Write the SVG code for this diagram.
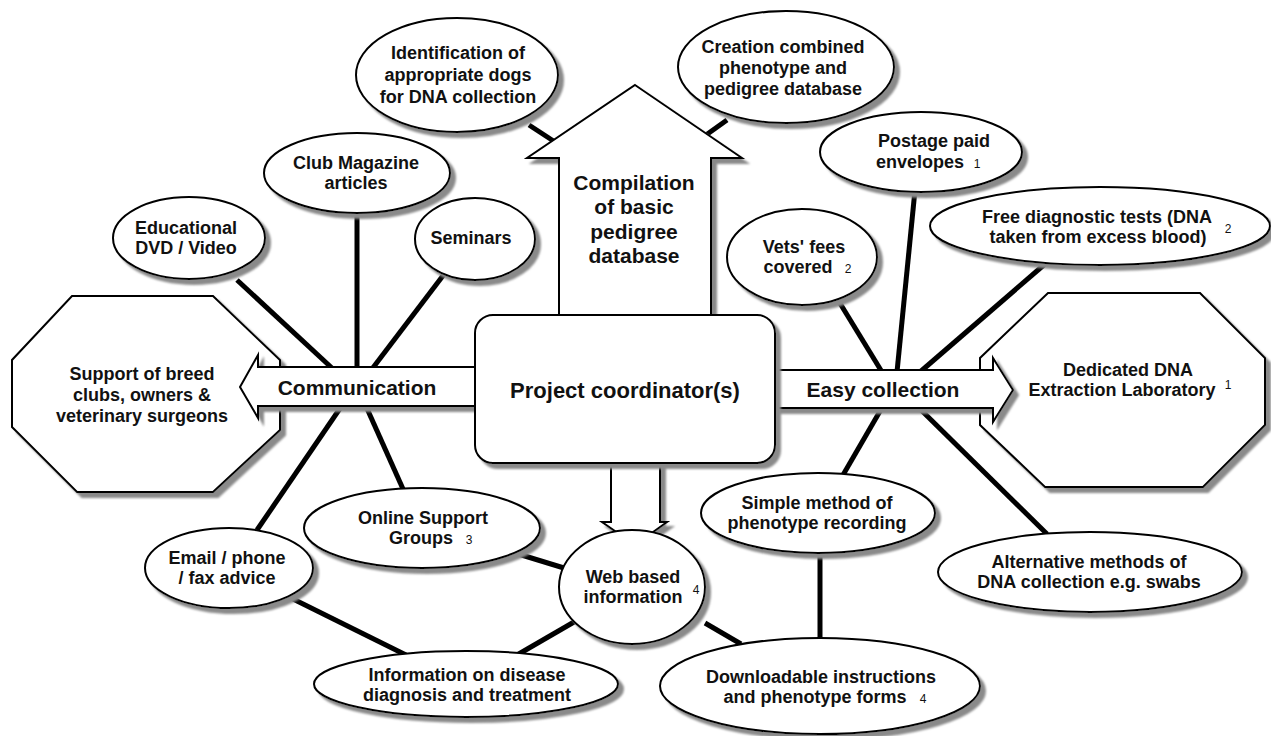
<svg xmlns="http://www.w3.org/2000/svg" width="1271" height="736" viewBox="0 0 1271 736">
<defs>
<filter id="sh" x="-10%" y="-10%" width="130%" height="130%">
<feDropShadow dx="5" dy="5" stdDeviation="1" flood-color="#8a8a8a" flood-opacity="1"/>
</filter>
<style>
.s{fill:#fff;stroke:#000;stroke-width:2;filter:url(#sh)}
.c{stroke:#000;stroke-width:5;fill:none}
text{font-family:"Liberation Sans",Arial,sans-serif;font-weight:bold;font-size:18px;fill:#111;text-anchor:middle}
.big{font-size:21px}
.sup{font-size:12px;font-weight:normal}
</style>
</defs>
<rect width="1271" height="736" fill="#fff"/>
<g id="connectors">
<line class="c" x1="237" y1="280" x2="333" y2="369"/>
<line class="c" x1="357" y1="213" x2="357" y2="369"/>
<line class="c" x1="445" y1="273" x2="372" y2="369"/>
<line class="c" x1="343" y1="404" x2="257" y2="530"/>
<line class="c" x1="365" y1="404" x2="403" y2="489"/>
<line class="c" x1="529" y1="125" x2="555" y2="142"/>
<line class="c" x1="727" y1="120" x2="706" y2="135"/>
<line class="c" x1="838" y1="300" x2="882" y2="372"/>
<line class="c" x1="915" y1="190" x2="897" y2="372"/>
<line class="c" x1="1045" y1="264" x2="920" y2="372"/>
<line class="c" x1="883" y1="406" x2="843" y2="475"/>
<line class="c" x1="917" y1="406" x2="1047" y2="534"/>
<line class="c" x1="515" y1="553" x2="564" y2="568"/>
<line class="c" x1="289" y1="597" x2="406" y2="655"/>
<line class="c" x1="574" y1="622" x2="517" y2="655"/>
<line class="c" x1="705" y1="623" x2="741" y2="644"/>
<line class="c" x1="820" y1="551" x2="820" y2="639"/>
</g>
<g id="support">
<polygon class="s" points="72,296 213,296 280,360 280,430 213,492 77,492 12,427 12,360"/>
<text x="142" y="380">Support of breed</text>
<text x="142" y="401">clubs, owners &amp;</text>
<text x="142" y="422">veterinary surgeons</text>
</g>
<g id="dedicated">
<polygon class="s" points="1048,293 1200,293 1265,358 1265,425 1203,487 1045,487 980,425 980,358"/>
<text x="1128" y="376">Dedicated DNA</text>
<text x="1122" y="396">Extraction Laboratory</text>
<text class="sup" x="1228" y="389">1</text>
</g>
<g id="communication">
<polygon class="s" points="240,387 258,355 258,367 475,367 475,406 258,406 258,418"/>
<text class="big" x="357" y="395">Communication</text>
</g>
<g id="easy">
<polygon class="s" points="775,370 993,370 993,358 1013,390 993,422 993,408 775,408"/>
<text class="big" x="883" y="397">Easy collection</text>
</g>
<g id="compilation">
<polygon class="s" points="635,85 742,158 711,158 711,315 559,315 559,158 527,158"/>
<text class="big" x="634" y="190">Compilation</text>
<text class="big" x="634" y="214">of basic</text>
<text class="big" x="634" y="239">pedigree</text>
<text class="big" x="634" y="263">database</text>
</g>
<g id="downarrow">
<polygon class="s" points="611,462 660,462 660,522 667,522 635,545 602,522 611,522"/>
</g>
<g id="coordinator">
<rect class="s" x="475" y="315" width="300" height="148" rx="18"/>
<text x="625" y="398" style="font-size:22px">Project coordinator(s)</text>
</g>
<g id="identification">
<ellipse class="s" cx="457" cy="75" rx="101" ry="57"/>
<text x="458" y="59">Identification of</text>
<text x="458" y="81">appropriate dogs</text>
<text x="458" y="103">for DNA collection</text>
</g>
<g id="creation">
<ellipse class="s" cx="786" cy="67" rx="108" ry="56"/>
<text x="783" y="53">Creation combined</text>
<text x="783" y="74">phenotype and</text>
<text x="783" y="95">pedigree database</text>
</g>
<g id="club">
<ellipse class="s" cx="357" cy="173" rx="93" ry="40"/>
<text x="356" y="169">Club Magazine</text>
<text x="356" y="189">articles</text>
</g>
<g id="educational">
<ellipse class="s" cx="189" cy="238" rx="76" ry="41"/>
<text x="186" y="234">Educational</text>
<text x="186" y="254">DVD / Video</text>
</g>
<g id="seminars">
<ellipse class="s" cx="475" cy="239" rx="60" ry="41"/>
<text x="471" y="244">Seminars</text>
</g>
<g id="vets">
<ellipse class="s" cx="802" cy="257" rx="75" ry="48"/>
<text x="804" y="253">Vets' fees</text>
<text x="798" y="273">covered</text>
<text class="sup" x="848" y="273">2</text>
</g>
<g id="postage">
<ellipse class="s" cx="921" cy="152" rx="101" ry="40"/>
<text x="934" y="147">Postage paid</text>
<text x="920" y="168">envelopes</text>
<text class="sup" x="977" y="168">1</text>
</g>
<g id="free">
<ellipse class="s" cx="1100" cy="226" rx="170" ry="39"/>
<text x="1097" y="223">Free diagnostic tests (DNA</text>
<text x="1098" y="243">taken from excess blood)</text>
<text class="sup" x="1228" y="233">2</text>
</g>
<g id="email">
<ellipse class="s" cx="229" cy="568" rx="84" ry="40"/>
<text x="227" y="564">Email / phone</text>
<text x="227" y="584">/ fax advice</text>
</g>
<g id="online">
<ellipse class="s" cx="422" cy="528" rx="118" ry="40"/>
<text x="423" y="524">Online Support</text>
<text x="421" y="544">Groups</text>
<text class="sup" x="469" y="544">3</text>
</g>
<g id="web">
<ellipse class="s" cx="632" cy="587" rx="73" ry="57"/>
<text x="633" y="583">Web based</text>
<text x="633" y="603">information</text>
<text class="sup" x="696" y="594">4</text>
</g>
<g id="information">
<ellipse class="s" cx="466" cy="684" rx="152" ry="33"/>
<text x="467" y="681">Information on disease</text>
<text x="467" y="701">diagnosis and treatment</text>
</g>
<g id="simple">
<ellipse class="s" cx="818" cy="513" rx="117" ry="40"/>
<text x="817" y="509">Simple method of</text>
<text x="817" y="529">phenotype recording</text>
</g>
<g id="downloadable">
<ellipse class="s" cx="820" cy="686" rx="160" ry="48"/>
<text x="821" y="683">Downloadable instructions</text>
<text x="815" y="703">and phenotype forms</text>
<text class="sup" x="923" y="703">4</text>
</g>
<g id="alternative">
<ellipse class="s" cx="1090" cy="572" rx="152" ry="40"/>
<text x="1089" y="568">Alternative methods of</text>
<text x="1089" y="588">DNA collection e.g. swabs</text>
</g>
</svg>
